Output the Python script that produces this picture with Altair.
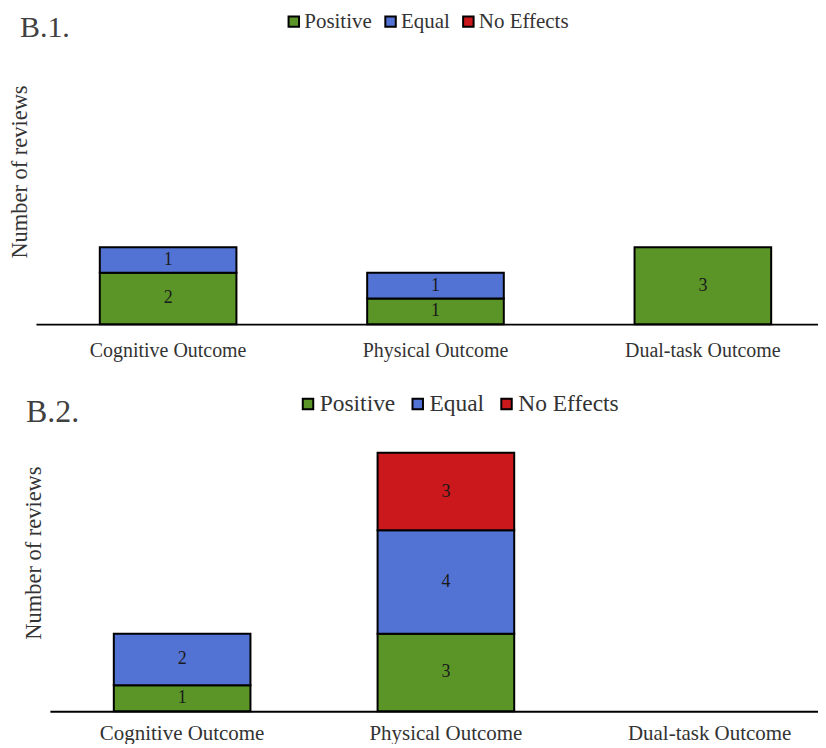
import altair as alt
import pandas as pd

categories = ["Cognitive Outcome", "Physical Outcome", "Dual-task Outcome"]
effects = ["Positive", "Equal", "No Effects"]
colors = ["#5B9528", "#5373D4", "#CB181D"]

b1_positive = [2, 1, 3]
b1_equal = [1, 1, 0]
b1_noeffects = [0, 0, 0]

b2_positive = [1, 3, 0]
b2_equal = [2, 4, 0]
b2_noeffects = [0, 3, 0]

FONT = "Liberation Serif"


def make_df(pos, eq, ne):
    rows = []
    for i, c in enumerate(categories):
        for k, (e, vals) in enumerate(zip(effects, [pos, eq, ne])):
            rows.append({"category": c, "effect": e, "value": vals[i], "order": k})
    return pd.DataFrame(rows)


def panel(df, title, width, height, xrange, pin, pout, align, title_dx, title_size,
          title_off, ytx, yty, label_size, label_pad, legx, legy, leg_size,
          leg_pad, ytitle_size):
    xscale = alt.Scale(domain=categories, range=xrange, paddingInner=pin,
                       paddingOuter=pout, align=align)
    xenc = alt.X("category:N", sort=categories, scale=xscale,
                 axis=alt.Axis(title=None, labelAngle=0, ticks=False, domain=True,
                               domainColor="black", domainWidth=2,
                               labelFont=FONT, labelFontSize=label_size,
                               labelColor="#333333", labelPadding=label_pad))
    base = alt.Chart(df).transform_filter("datum.value > 0")
    bars = base.mark_bar(stroke="black", strokeWidth=2).encode(
        x=xenc,
        y=alt.Y("value:Q", stack="zero", scale=alt.Scale(domain=[0, 10], nice=False),
                axis=alt.Axis(title="Number of reviews", labels=False, ticks=False,
                              domain=False, grid=False, titleFont=FONT,
                              titleFontSize=ytitle_size, titleFontWeight="normal",
                              titleColor="#333333", titleX=ytx, titleY=yty,
                              titleAngle=270, titleBaseline="middle",
                              titleAlign="center")),
        color=alt.Color("effect:N", scale=alt.Scale(domain=effects, range=colors),
                        legend=alt.Legend(title=None, orient="none", legendX=legx,
                                          legendY=legy, direction="horizontal",
                                          symbolType="square", symbolSize=110,
                                          symbolStrokeColor="black",
                                          symbolStrokeWidth=2,
                                          labelFont=FONT, labelFontSize=leg_size,
                                          labelColor="#333333", labelOffset=0,
                                          columnPadding=leg_pad)),
        order=alt.Order("order:Q"),
    )
    texts = base.transform_stack(
        stack="value", groupby=["category"], as_=["v0", "v1"],
        sort=[alt.SortField("order", order="ascending")]
    ).transform_calculate(mid="(datum.v0 + datum.v1) / 2").mark_text(
        font=FONT, fontSize=18, color="#1a1a1a"
    ).encode(x=xenc, y="mid:Q", text="value:Q")
    return alt.layer(bars, texts).properties(
        width=width, height=height,
        title=alt.TitleParams(title, anchor="start", frame="group", dx=title_dx,
                              font=FONT, fontSize=title_size, fontWeight="normal",
                              color="#404040", offset=title_off),
    )


top = panel(make_df(b1_positive, b1_equal, b1_noeffects), "B.1.", 784, 257,
            [0, 784], 0.489, 0.207, 0.577, -16, 30, -32, -16, 104, 20, 16,
            248, -57, 21, 8, 22.5)
bottom = panel(make_df(b2_positive, b2_equal, b2_noeffects), "B.2.", 784, 259,
               [14, 784], 0.482, 0.197, 0.615, -10, 32, -37, -2, 100, 21, 11,
               261, -61, 23.5, 10, 22.5)

chart = alt.vconcat(top, bottom, spacing=32).resolve_legend(
    color="independent"
).properties(
    padding={"left": 0, "top": 2, "right": 0, "bottom": 0}
).configure_view(stroke=None)

chart.save("out.html", embed_options={"renderer": "svg", "actions": False})
